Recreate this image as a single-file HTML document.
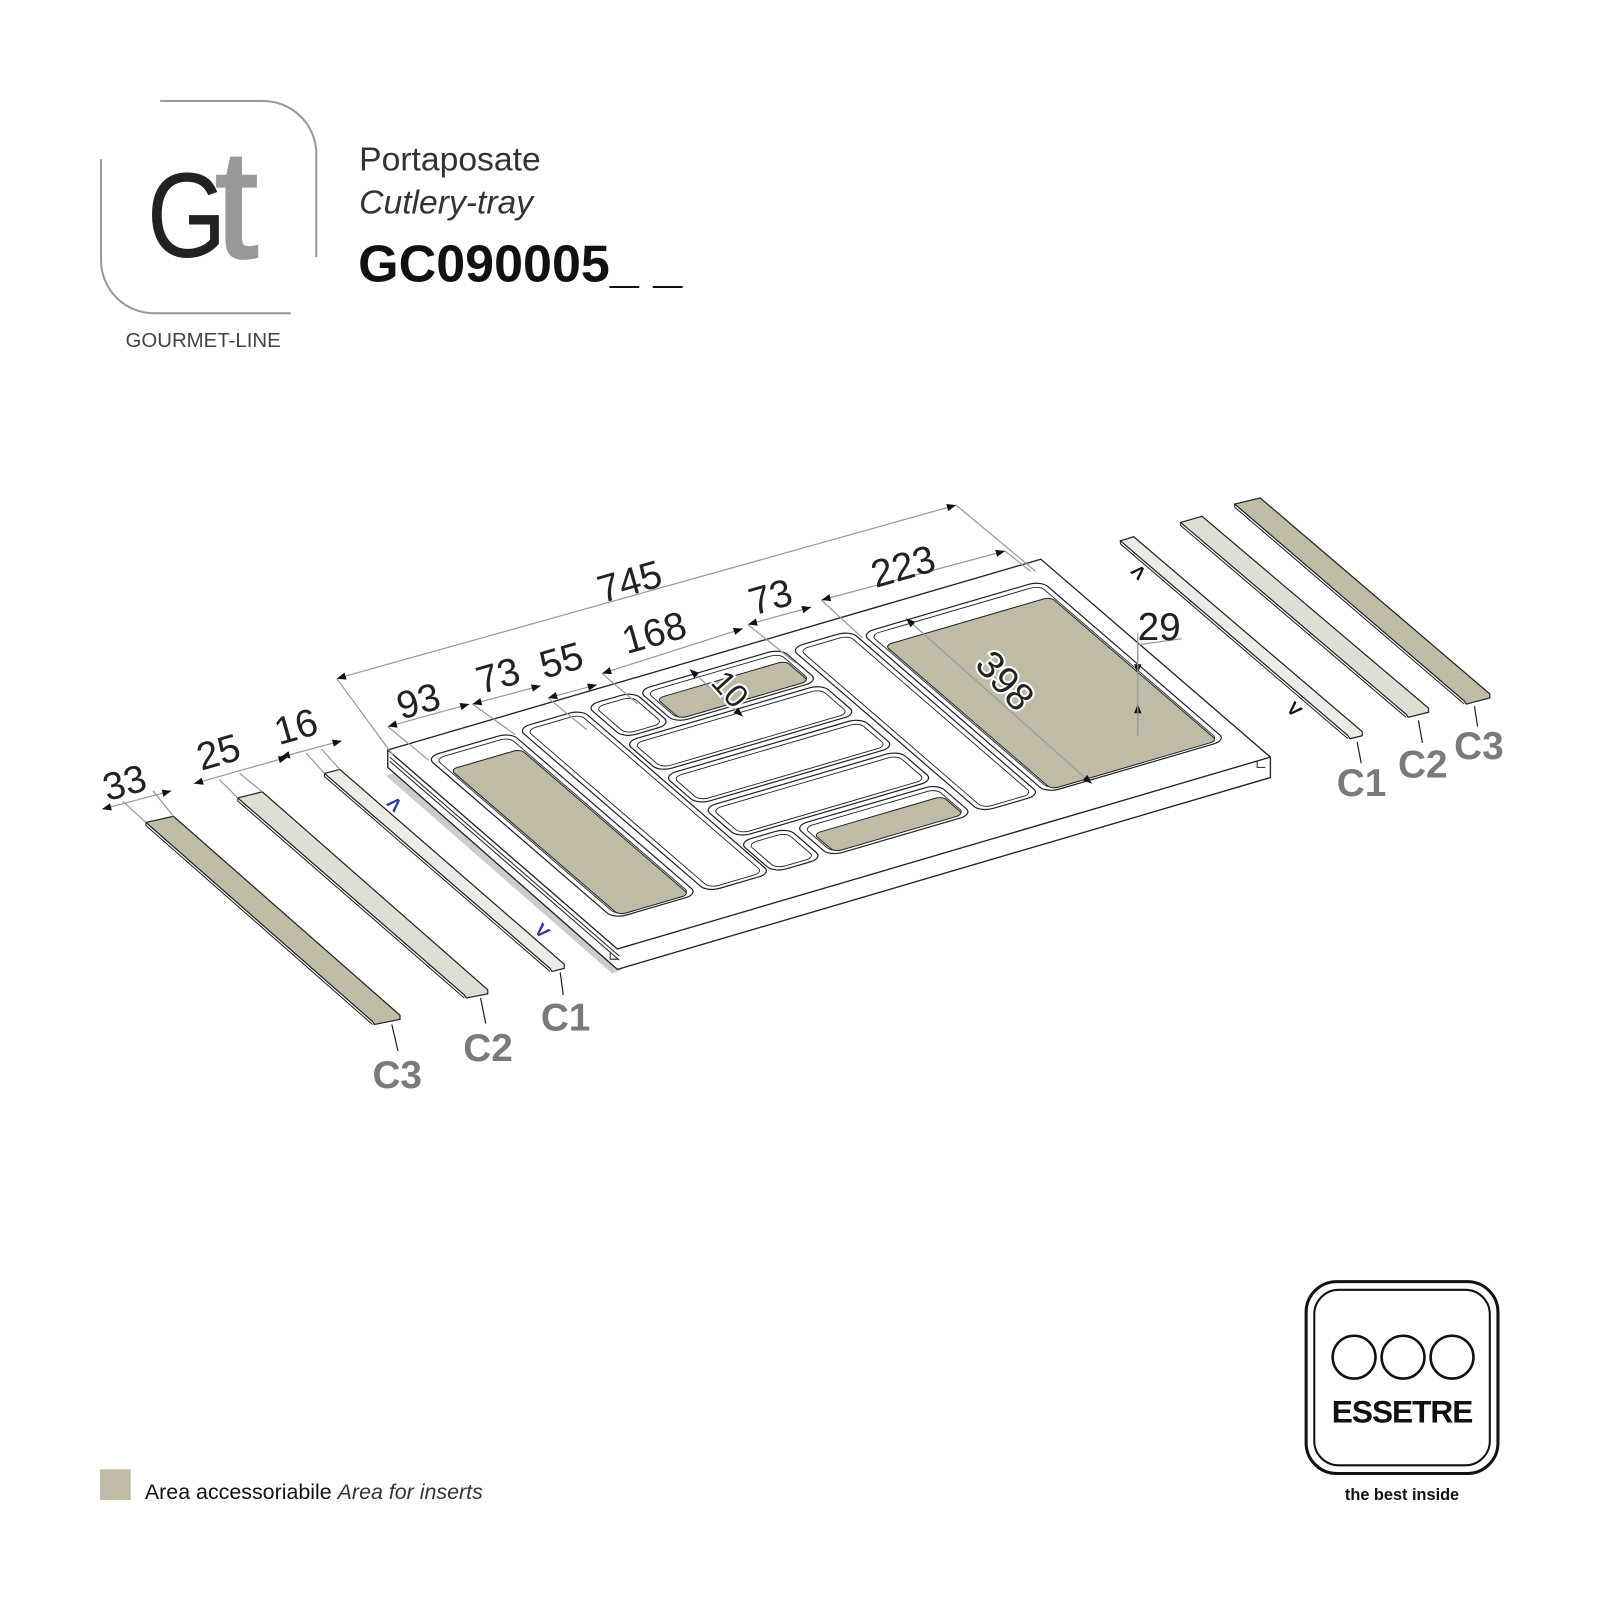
<!DOCTYPE html>
<html><head><meta charset="utf-8"><style>
html,body{margin:0;padding:0;background:#fff;}
svg{display:block}
.n{font-family:"Liberation Sans Narrow","Liberation Sans",sans-serif;font-size:38px;fill:#222}
.c{font-family:"Liberation Sans Narrow","Liberation Sans",sans-serif;font-weight:bold;font-size:38px;fill:#7a7a7a}
.dl{stroke:#999;stroke-width:1.2;fill:none}
.tr rect{vector-effect:non-scaling-stroke}
</style></head><body>
<svg width="1600" height="1600" viewBox="0 0 1568 1568" xmlns="http://www.w3.org/2000/svg">
<defs>
<marker id="ar" viewBox="0 0 10 10" refX="10" refY="5" markerWidth="20" markerHeight="9" orient="auto-start-reverse" markerUnits="userSpaceOnUse"><path d="M0,1 L10,5 L0,9 z" fill="#111"/></marker>
</defs>
<!-- header logo -->
<path d="M157,99 H258 A52,52 0 0 1 310,151 V252" fill="none" stroke="#999" stroke-width="2"/>
<path d="M99,156 V255 A52,52 0 0 0 151,307 H285" fill="none" stroke="#999" stroke-width="2"/>
<text x="144" y="252" font-family="Liberation Sans,sans-serif" font-size="118" fill="#222" transform="translate(144 0) scale(0.85 1) translate(-144 0)">G</text>
<text x="211" y="252" font-family="Liberation Sans,sans-serif" font-size="150" fill="#999" stroke="#999" stroke-width="3">t</text>
<text x="123" y="340" font-family="Liberation Sans,sans-serif" font-size="20" fill="#444">GOURMET-LINE</text>
<text x="352" y="167" font-family="Liberation Sans,sans-serif" font-size="33" fill="#333">Portaposate</text>
<text x="352" y="209" font-family="Liberation Sans,sans-serif" font-style="italic" font-size="33" fill="#333">Cutlery-tray</text>
<text x="351" y="276" font-family="Liberation Sans,sans-serif" font-weight="bold" font-size="51" fill="#111">GC090005_ _</text>

<!-- shadow strip left of tray -->
<polygon points="378,760 388,757 610,950 600,954" fill="#ccc"/>
<!-- tray body -->
<polygon points="380,735 1020,548 1245,742 1245,762 605,950 380,752" fill="#fff" stroke="#222" stroke-width="1.3"/>
<polyline points="380,735 605,930 1245,742" fill="none" stroke="#222" stroke-width="1.3"/>
<polyline points="382,742 607,937" fill="none" stroke="#222" stroke-width="1"/>
<polyline points="382,746 607,941" fill="none" stroke="#222" stroke-width="1"/>
<path d="M1232,746 V752 H1240" fill="none" stroke="#222"/>
<path d="M598,934 V940 H606" fill="none" stroke="#222"/>
<!-- compartments -->
<g class="tr" transform="matrix(0.859,-0.251,0.459,0.396,380,735)" stroke="#222" stroke-width="1.2">
 <g fill="#fff">
  <rect x="26" y="34" width="96" height="400" rx="14"/>
  <rect x="132" y="30" width="73" height="405" rx="14"/>
  <rect x="213" y="25" width="54" height="80" rx="14"/>
  <rect x="272" y="25" width="163" height="80" rx="14"/>
  <rect x="210" y="113" width="225" height="74" rx="14"/>
  <rect x="210" y="196" width="225" height="72" rx="14"/>
  <rect x="212" y="277" width="223" height="74" rx="14"/>
  <rect x="208" y="360" width="56" height="75" rx="14"/>
  <rect x="272" y="360" width="163" height="75" rx="14"/>
  <rect x="444" y="29" width="68" height="406" rx="14"/>
  <rect x="519" y="40" width="205" height="395" rx="14"/>
 </g>
 <g fill="none" stroke-width="0.9">
  <rect x="32" y="42" width="84" height="386" rx="10"/>
  <rect x="138" y="38" width="61" height="391" rx="10"/>
  <rect x="219" y="33" width="42" height="66" rx="10"/>
  <rect x="278" y="33" width="151" height="66" rx="10"/>
  <rect x="216" y="121" width="213" height="60" rx="10"/>
  <rect x="216" y="204" width="213" height="58" rx="10"/>
  <rect x="218" y="285" width="211" height="60" rx="10"/>
  <rect x="214" y="368" width="44" height="61" rx="10"/>
  <rect x="278" y="368" width="151" height="61" rx="10"/>
  <rect x="450" y="37" width="56" height="392" rx="10"/>
  <rect x="525" y="48" width="193" height="381" rx="10"/>
 </g>
 <g fill="#bfbba7" stroke-width="1">
  <rect x="34" y="70" width="80" height="360" rx="8"/>
  <rect x="280" y="50" width="147" height="50" rx="8"/>
  <rect x="280" y="385" width="147" height="45" rx="8"/>
  <rect x="527" y="75" width="189" height="356" rx="8"/>
 </g>
</g>

<!-- left strips -->
<polygon points="143,806 170,800 392,995 392,999 367,1004 365,1001" fill="#bfbba7" stroke="#222" stroke-width="1.2"/>
<polyline points="143,806 143,809 365,1004" fill="none" stroke="#222"/>
<polygon points="233,782 257,776 478,970 478,974 457,978 455,975" fill="#dfded2" stroke="#222" stroke-width="1.2"/>
<polyline points="233,782 233,785 455,978" fill="none" stroke="#222"/>
<polygon points="318,758 333,754 553,945 553,949 541,952 539,949" fill="#ecebe4" stroke="#222" stroke-width="1.2"/>
<polyline points="318,758 318,761 539,952" fill="none" stroke="#222"/>
<!-- right strips -->
<polygon points="1098,530 1111,526 1335,717 1335,721 1323,724 1321,721" fill="#ecebe4" stroke="#222" stroke-width="1.2"/>
<polyline points="1098,530 1098,533 1321,724" fill="none" stroke="#222"/>
<polygon points="1157,512 1178,506 1400,694 1400,698 1380,703 1378,700" fill="#dfded2" stroke="#222" stroke-width="1.2"/>
<polyline points="1157,512 1157,515 1378,703" fill="none" stroke="#222"/>
<polygon points="1210,494 1235,488 1460,680 1460,684 1437,690 1435,687" fill="#bfbba7" stroke="#222" stroke-width="1.2"/>
<polyline points="1210,494 1210,497 1435,690" fill="none" stroke="#222"/>

<!-- blue marks -->
<text x="378" y="788" font-family="Liberation Sans" font-weight="bold" font-size="18" fill="#2b3a9a" transform="rotate(45 378 788)">Λ</text>
<text x="530" y="912" font-family="Liberation Sans" font-weight="bold" font-size="18" fill="#2b3a9a" transform="rotate(-135 535 910)">Λ</text>
<text x="1110" y="566" font-family="Liberation Sans" font-weight="bold" font-size="18" fill="#111" transform="rotate(45 1115 560)">Λ</text>
<text x="1265" y="700" font-family="Liberation Sans" font-weight="bold" font-size="18" fill="#111" transform="rotate(-135 1270 695)">Λ</text>

<!-- leaders & labels -->
<g stroke="#222" stroke-width="1.2">
<line x1="549" y1="953" x2="552" y2="975"/><line x1="471" y1="978" x2="476" y2="1003"/><line x1="384" y1="1004" x2="390" y2="1030"/>
<line x1="1330" y1="727" x2="1334" y2="748"/><line x1="1390" y1="706" x2="1394" y2="728"/><line x1="1445" y1="692" x2="1448" y2="712"/>
</g>
<text class="c" x="530" y="1010">C1</text><text class="c" x="454" y="1040">C2</text><text class="c" x="365" y="1066">C3</text>
<text class="c" x="1310" y="780">C1</text><text class="c" x="1370" y="762">C2</text><text class="c" x="1425" y="744">C3</text>

<!-- dimension lines -->
<g class="dl">
<line x1="330" y1="665" x2="937" y2="495" marker-start="url(#ar)" marker-end="url(#ar)" stroke="#999"/>
<line x1="330" y1="665" x2="385" y2="740"/><line x1="937" y1="495" x2="1015" y2="560"/>
<line x1="805" y1="588" x2="985" y2="540" marker-start="url(#ar)" marker-end="url(#ar)"/>
<line x1="733" y1="612" x2="795" y2="595" marker-start="url(#ar)" marker-end="url(#ar)"/>
<line x1="590" y1="660" x2="728" y2="616" marker-start="url(#ar)" marker-end="url(#ar)"/>
<line x1="537" y1="684" x2="585" y2="671" marker-start="url(#ar)" marker-end="url(#ar)"/>
<line x1="463" y1="690" x2="530" y2="672" marker-start="url(#ar)" marker-end="url(#ar)"/>
<line x1="380" y1="712" x2="460" y2="690" marker-start="url(#ar)" marker-end="url(#ar)"/>
<line x1="275" y1="742" x2="335" y2="726" marker-start="url(#ar)" marker-end="url(#ar)"/>
<line x1="190" y1="768" x2="282" y2="742" marker-start="url(#ar)" marker-end="url(#ar)"/>
<line x1="100" y1="793" x2="168" y2="775" marker-start="url(#ar)" marker-end="url(#ar)"/>
<line x1="888" y1="606" x2="1070" y2="768" marker-start="url(#ar)" marker-end="url(#ar)"/>
<line x1="676" y1="656" x2="728" y2="702" marker-start="url(#ar)" marker-end="url(#ar)"/>
<line x1="1115" y1="632" x2="1115" y2="660" marker-end="url(#ar)"/>
<line x1="1115" y1="716" x2="1115" y2="690" marker-end="url(#ar)"/>
<line x1="1115" y1="632" x2="1158" y2="626"/><line x1="1115" y1="620" x2="1115" y2="722"/>
<line x1="805" y1="588" x2="845" y2="625"/><line x1="985" y1="540" x2="1010" y2="560"/>
<line x1="733" y1="612" x2="780" y2="650"/><line x1="590" y1="660" x2="625" y2="690"/>
<line x1="537" y1="684" x2="575" y2="715"/><line x1="463" y1="690" x2="505" y2="720"/>
<line x1="380" y1="712" x2="420" y2="745"/>
<line x1="150" y1="775" x2="170" y2="800"/><line x1="120" y1="785" x2="143" y2="806"/>
<line x1="215" y1="764" x2="233" y2="782"/><line x1="235" y1="758" x2="257" y2="776"/>
<line x1="300" y1="738" x2="318" y2="758"/><line x1="315" y1="734" x2="333" y2="754"/>
</g>
<g class="n">
<text x="617" y="583" transform="rotate(-16 617 570)" text-anchor="middle">745</text>
<text x="885" y="568" transform="rotate(-16 885 555)" text-anchor="middle">223</text>
<text x="755" y="598" transform="rotate(-16 755 585)" text-anchor="middle">73</text>
<text x="641" y="633" transform="rotate(-16 641 620)" text-anchor="middle">168</text>
<text x="550" y="660" transform="rotate(-16 550 647)" text-anchor="middle">55</text>
<text x="488" y="675" transform="rotate(-16 488 662)" text-anchor="middle">73</text>
<text x="410" y="700" transform="rotate(-16 410 687)" text-anchor="middle">93</text>
<text x="290" y="725" transform="rotate(-16 290 712)" text-anchor="middle">16</text>
<text x="214" y="750" transform="rotate(-16 214 737)" text-anchor="middle">25</text>
<text x="122" y="780" transform="rotate(-16 122 767)" text-anchor="middle">33</text>
<text x="1136" y="627" text-anchor="middle">29</text>
<text x="985" y="680" transform="rotate(48 985 667)" text-anchor="middle" stroke="#fff" stroke-width="4" paint-order="stroke">398</text>
<text x="717" y="687" transform="rotate(48 717 674)" text-anchor="middle" font-size="32" stroke="#fff" stroke-width="4" paint-order="stroke">10</text>
</g>

<!-- essetre logo -->
<rect x="1280" y="1256" width="188" height="188" rx="30" fill="none" stroke="#111" stroke-width="3"/>
<rect x="1288" y="1264" width="172" height="172" rx="24" fill="none" stroke="#111" stroke-width="2"/>
<circle cx="1327" cy="1330" r="21" fill="none" stroke="#111" stroke-width="2.5"/>
<circle cx="1375" cy="1330" r="21" fill="none" stroke="#111" stroke-width="2.5"/>
<circle cx="1423" cy="1330" r="21" fill="none" stroke="#111" stroke-width="2.5"/>
<text x="1374" y="1394" text-anchor="middle" font-family="Liberation Sans,sans-serif" font-weight="bold" font-size="31" fill="#111" letter-spacing="-1">ESSETRE</text>
<text x="1374" y="1470" text-anchor="middle" font-family="Liberation Sans,sans-serif" font-weight="bold" font-size="16" fill="#111">the best inside</text>

<!-- legend -->
<rect x="98" y="1440" width="30" height="30" fill="#bfbba7"/>
<text x="142" y="1469" font-family="Liberation Sans,sans-serif" font-size="21" fill="#111">Area accessoriabile <tspan font-style="italic" fill="#333">Area for inserts</tspan></text>
</svg>
</body></html>
